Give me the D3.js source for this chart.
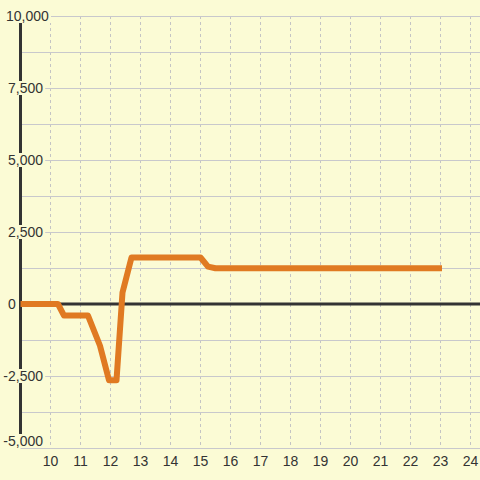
<!DOCTYPE html>
<html><head><meta charset="utf-8">
<script src="https://cdn.jsdelivr.net/npm/d3@7"></script>
<style>html,body{margin:0;padding:0;background:#fbfbd5;}svg{display:block;}</style>
</head><body>
<script>
// data
const xValues = [9, 10.25, 10.45, 11.25, 11.65, 11.95, 12.2, 12.4, 12.7, 15.0, 15.25, 15.5, 23.05];
const yValues = [0, 0, -400, -400, -1450, -2650, -2650, 400, 1615, 1615, 1300, 1240, 1240];
const xTicks = [10, 11, 12, 13, 14, 15, 16, 17, 18, 19, 20, 21, 22, 23, 24];
const yLabelTicks = [-5000, -2500, 0, 2500, 5000, 7500, 10000];
const yGridTicks = [-5000, -3750, -2500, -1250, 0, 1250, 2500, 3750, 5000, 6250, 7500, 8750, 10000];

const W = 480, H = 480;
const svg = d3.select("body").append("svg").attr("width", W).attr("height", H);
svg.append("rect").attr("width", W).attr("height", H).attr("fill", "#fbfbd5");

const x = d3.scaleLinear().domain([9, 24.3167]).range([20.5, 480]);
const y = d3.scaleLinear().domain([-5000, 10000]).range([448, 16]);

const fmt = d3.format(",");
const font = "'Liberation Sans', Arial, sans-serif";

// vertical dashed grid
svg.append("g").selectAll("line").data(xTicks).join("line")
  .attr("x1", d => Math.round(x(d)) + 0.5).attr("x2", d => Math.round(x(d)) + 0.5)
  .attr("y1", y(10000)).attr("y2", y(-5000))
  .attr("stroke", "#c4c4c4").attr("stroke-width", 1).attr("stroke-dasharray", "3,3");

// horizontal grid
svg.append("g").selectAll("line").data(yGridTicks).join("line")
  .attr("x1", x(9)).attr("x2", W)
  .attr("y1", d => Math.round(y(d)) + 0.5).attr("y2", d => Math.round(y(d)) + 0.5)
  .attr("stroke", "#c8c8cc").attr("stroke-width", 1);

// y axis line
svg.append("line").attr("x1", x(9)).attr("x2", x(9)).attr("y1", y(10000)).attr("y2", y(-5000))
  .attr("stroke", "#333").attr("stroke-width", 3);

// zero line
svg.append("line").attr("x1", x(9)).attr("x2", W).attr("y1", y(0)).attr("y2", y(0))
  .attr("stroke", "#333").attr("stroke-width", 3);

// data line
const line = d3.line().x(d => x(d[0])).y(d => y(d[1]));
const pts = xValues.map((v, i) => [v, yValues[i]]);
svg.append("path").datum(pts).attr("d", line)
  .attr("fill", "none").attr("stroke", "#e07a22").attr("stroke-width", 6)
  .attr("stroke-linejoin", "round").attr("stroke-linecap", "butt");

// y labels with background
const yl = svg.append("g").selectAll("g").data(yLabelTicks).join("g");
yl.each(function(d) {
  const g = d3.select(this);
  let cy = y(d);
  if (d === -5000) cy -= 7;
  const t = g.append("text").text(fmt(d).replace("−", "-"))
    .attr("font-family", font).attr("font-size", 14).attr("fill", "#333")
    .attr("dominant-baseline", "central").attr("y", cy);
  if (d === 0) t.attr("x", 8).attr("text-anchor", "start");
  else if (d === 10000) t.attr("x", 6).attr("text-anchor", "start");
  else t.attr("x", 43).attr("text-anchor", "end");
  const bb = t.node().getBBox();
  g.insert("rect", "text").attr("x", bb.x - 2).attr("y", cy - 7).attr("width", bb.width + 4).attr("height", 14)
    .attr("fill", "#fbfbd5");
});

// x labels
svg.append("g").selectAll("text").data(xTicks).join("text")
  .attr("x", d => x(d)).attr("y", 461)
  .attr("text-anchor", "middle").attr("dominant-baseline", "central")
  .attr("font-family", font).attr("font-size", 14).attr("fill", "#333")
  .text(d => d);
</script>
</body></html>
